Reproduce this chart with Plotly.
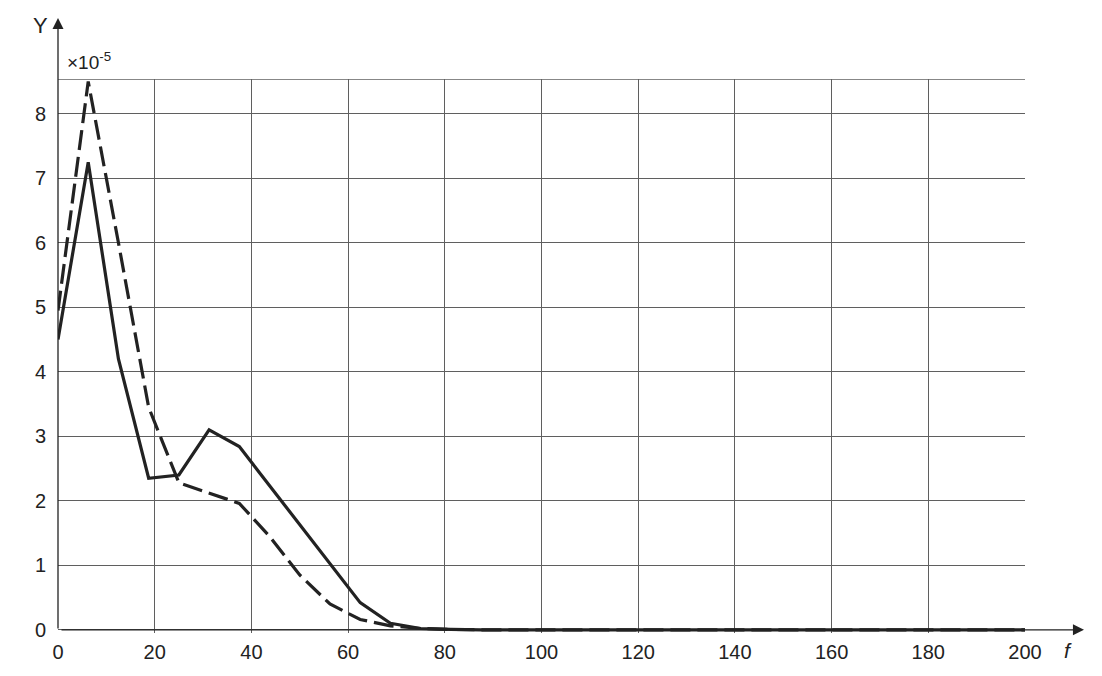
import plotly.graph_objects as go

# data (values in units of 1e-5)
F = [0, 6.25, 12.5, 18.75, 25, 31.25, 37.5, 43.75, 50, 56.25, 62.5, 68.75, 75, 81.25, 87.5, 200]
Y_SOLID = [4.5, 7.25, 4.2, 2.35, 2.4, 3.1, 2.84, 2.23, 1.62, 1.02, 0.42, 0.1, 0.02, 0.005, 0, 0]
Y_DASH = [4.95, 8.5, 6.0, 3.45, 2.28, 2.12, 1.96, 1.45, 0.85, 0.4, 0.16, 0.06, 0.02, 0.005, 0, 0]

X_TICKS = [0, 20, 40, 60, 80, 100, 120, 140, 160, 180, 200]
Y_TICKS = [0, 1, 2, 3, 4, 5, 6, 7, 8]
Y_TOP = 8.54

INK = "#222222"
GRID = "#5f5f5f"
FONT = dict(family="Liberation Sans, Arial, sans-serif", color=INK, size=20)

fig = go.Figure()
fig.add_trace(go.Scatter(x=F, y=Y_SOLID, mode="lines",
                         line=dict(color=INK, width=3.2)))
fig.add_trace(go.Scatter(x=F, y=Y_DASH, mode="lines",
                         line=dict(color=INK, width=3.2, dash="20px,7px")))

# top border of the grid
fig.add_shape(type="line", x0=0, x1=200, y0=Y_TOP, y1=Y_TOP, xref="x", yref="y",
              line=dict(color=GRID, width=1.3), layer="below")

# axis arrows
fig.add_annotation(x=0, y=1.110, xref="x", yref="paper", text="", showarrow=True,
                   ax=0, ay=612, arrowhead=2, arrowsize=1.7, arrowwidth=1.3,
                   arrowcolor=INK, standoff=0, startstandoff=0)
fig.add_annotation(x=1.061, y=0, xref="paper", yref="y", text="", showarrow=True,
                   ax=-1024, ay=0, arrowhead=2, arrowsize=1.7, arrowwidth=1.3,
                   arrowcolor=INK, standoff=0, startstandoff=0)

# labels
fig.add_annotation(x=-0.0176, y=1.097, xref="paper", yref="paper", text="Y",
                   showarrow=False, font=dict(size=22), xanchor="center", yanchor="middle")
fig.add_annotation(x=0.007, y=1.008, xref="paper", yref="paper", text="×10<sup>-5</sup>",
                   showarrow=False, font=dict(size=19), xanchor="left", yanchor="bottom")
fig.add_annotation(x=1.044, y=-0.031, xref="paper", yref="paper", text="<i>f</i>",
                   showarrow=False, font=dict(size=21), xanchor="center", yanchor="middle")

# the page body adds an 8px offset, so the figure is sized to fit inside the window
fig.update_layout(
    width=1086, height=660,
    paper_bgcolor="white", plot_bgcolor="white",
    font=FONT,
    margin=dict(l=50, r=69, t=71, b=35),
    showlegend=False,
    xaxis=dict(range=[0, 200], tickvals=X_TICKS, showgrid=True, gridcolor=GRID,
               gridwidth=1.3, zeroline=False, showline=False, automargin=False,
               ticks="outside", ticklen=1, tickcolor="rgba(0,0,0,0)"),
    yaxis=dict(range=[-0.05, Y_TOP], tickvals=Y_TICKS, showgrid=True, gridcolor=GRID,
               gridwidth=1.3, zeroline=False, showline=False, automargin=False,
               ticks="outside", ticklen=7, tickcolor="rgba(0,0,0,0)"),
)

fig.write_html("out.html")
